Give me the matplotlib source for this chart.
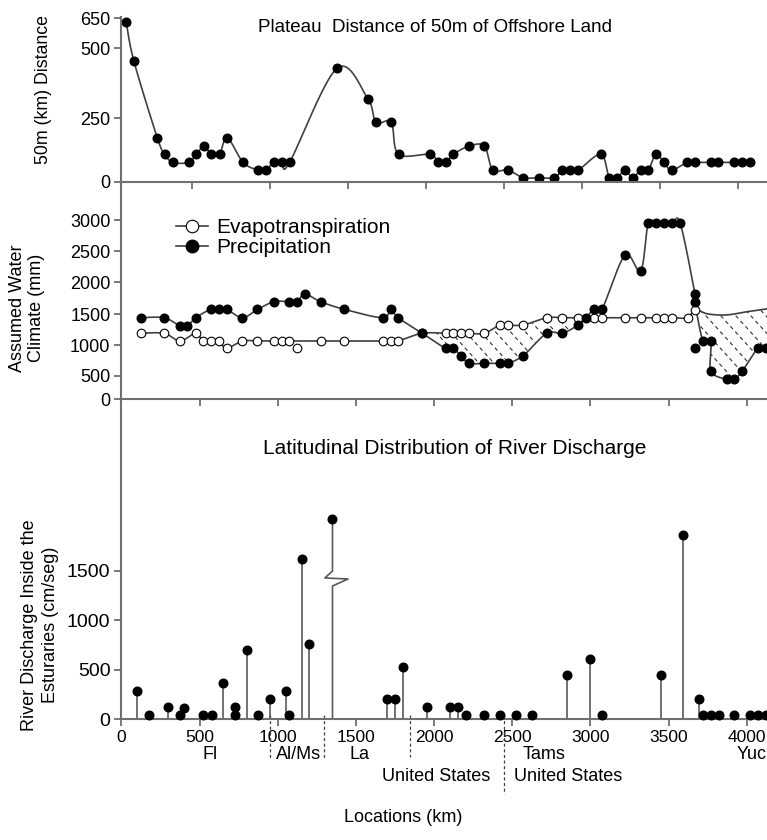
import numpy as np
import matplotlib
matplotlib.use("Agg")
import matplotlib.pyplot as plt
from matplotlib.collections import LineCollection
from matplotlib.patches import Polygon
from matplotlib.lines import Line2D

plt.rcParams["font.family"] = ["Liberation Sans", "DejaVu Sans"]

# ── data ────────────────────────────────────────────────────────
# top panel: distance to the 50 m isobath
top_km = [77, 126, 276, 324, 376, 478, 527, 574, 623, 675, 724, 826, 922, 973,
          1022, 1076, 1124, 1428, 1626, 1677, 1775, 1822, 2025, 2074, 2125, 2174,
          2275, 2372, 2426, 2522, 2622, 2723, 2821, 2872, 2921, 2974, 3119, 3172,
          3224, 3273, 3322, 3373, 3422, 3471, 3523, 3572, 3672, 3721, 3822, 3870,
          3972, 4024, 4074]
top_dist = [633, 455, 174, 109, 77, 77, 109, 141, 109, 109, 174, 77, 47, 47,
            77, 77, 77, 429, 319, 234, 234, 109, 109, 77, 77, 109,
            141, 141, 47, 47, 17, 17, 17, 47, 47, 47, 109, 17,
            17, 47, 17, 47, 47, 109, 77, 47, 77, 77, 77, 77,
            77, 77, 77]

# middle panel: precipitation / evapotranspiration
precip_km = [123, 273, 373, 422, 475, 571, 623, 672, 774, 870, 975, 1073, 1124,
             1173, 1274, 1425, 1670, 1723, 1770, 1924, 2074, 2122, 2171, 2223,
             2321, 2421, 2470, 2570, 2720, 2820, 2922, 2973, 3023, 3074, 3221,
             3322, 3370, 3423, 3473, 3524, 3575, 3669, 3669, 3720, 3771, 3771,
             3872, 3921, 3972, 4072, 4123]
precip_mm = [1440, 1440, 1311, 1311, 1440, 1574, 1574, 1574, 1440, 1574, 1694,
             1694, 1694, 1815, 1694, 1574, 1440, 1574, 1440, 1189, 946, 946, 826,
             702, 702, 702, 702, 826, 1189, 1189, 1323, 1440, 1574, 1574, 2435,
             2185, 2947, 2947, 2947, 2947, 2947, 1815, 1685, 1065, 1065, 577,
             423, 423, 577, 946, 946]
precip_tail_km = [4250]
precip_tail_mm = [946]
precip_lone_km = [3669]
precip_lone_mm = [946]

evap_km = [123, 273, 373, 475, 522, 571, 623, 672, 774, 870, 975, 1024, 1073,
           1274, 1425, 1670, 1723, 1770, 1924, 2074, 2122, 2171, 2223, 2321,
           2421, 2470, 2570, 2720, 2820, 2922, 3025, 3074, 3221, 3322, 3420,
           3473, 3524, 3622, 3669]
evap_mm = [1189, 1189, 1065, 1189, 1065, 1065, 1065, 946, 1065, 1065, 1065,
           1065, 1065, 1065, 1065, 1065, 1065, 1065, 1189, 1189, 1189, 1189,
           1189, 1189, 1323, 1323, 1323, 1440, 1440, 1440, 1440, 1440, 1440,
           1440, 1440, 1440, 1440, 1440, 1563]
evap_tail_km = [3754, 3872, 4000, 4128, 4250]
evap_tail_mm = [1500, 1485, 1535, 1580, 1620]
evap_lone_km = [1124]
evap_lone_mm = [946]

# deficit zones (precipitation below evapotranspiration)
deficit_start = [1924, 3675]
deficit_end = [2973, 4250]

# bottom panel: river discharge
dis_km = [100, 175, 298, 373, 401, 522, 576, 650, 725, 725, 800, 874, 953, 1050,
          1073, 1152, 1201, 1700, 1749, 1798, 1952, 2101, 2150, 2202, 2321, 2421,
          2522, 2624, 2848, 2997, 3072, 3450, 3594, 3697, 3718, 3770, 3823, 3921,
          4021, 4074, 4122]
dis_val = [284, 40, 125, 40, 108, 40, 40, 368, 125, 40, 699, 40, 203, 284,
           40, 1622, 760, 203, 203, 530, 125, 125, 125, 40, 40, 40,
           40, 40, 446, 608, 40, 446, 1865, 203, 40, 40, 40, 40,
           40, 40, 40]
# Mississippi, drawn on a broken axis
miss_km = [1350]
miss_val = [2024]
zig_km = [1350, 1350, 1450, 1301, 1350, 1350]
zig_val = [0, 1348, 1419, 1429, 1500, 2024]

border_km = [950, 1296, 1845, 2450]
border_len = [0.125, 0.125, 0.12, 0.235]     # axes fraction below the axis
region_names = ["Fl", "Al/Ms", "La", "Tams"]
region_km = [565, 1135, 1525, 2703]
country_names = ["United States", "United States"]
country_km = [2011, 2857]

xticks = np.arange(0, 4001, 500)

# ── helpers ─────────────────────────────────────────────────────
def piecewise(vals, heights):
    vals = np.asarray(vals, float)
    heights = np.asarray(heights, float)
    fwd = lambda v: np.interp(v, vals, heights)
    inv = lambda u: np.interp(u, heights, vals)
    return fwd, inv


def smooth(x, y, fwd=None, inv=None, n=16):
    """uniform Catmull-Rom through the points (in scale space)"""
    y = np.asarray(y, float)
    if fwd is not None:
        y = fwd(y)
    P = np.column_stack([np.asarray(x, float), y])
    P = np.vstack([P[0], P, P[-1]])
    t = np.linspace(0, 1, n)[:, None]
    out = []
    for i in range(len(P) - 3):
        p0, p1, p2, p3 = P[i], P[i + 1], P[i + 2], P[i + 3]
        seg = 0.5 * (2 * p1 + (-p0 + p2) * t
                     + (2 * p0 - 5 * p1 + 4 * p2 - p3) * t ** 2
                     + (-p0 + 3 * p1 - 3 * p2 + p3) * t ** 3)
        out.append(seg if i == 0 else seg[1:])
    out = np.vstack(out)
    ys = out[:, 1] if inv is None else inv(out[:, 1])
    return out[:, 0], ys


FW, FH = 767, 840
fig = plt.figure(figsize=(FW / 100, FH / 100), dpi=100)

LEFT = 121.5
def axes_px(top, bottom):
    return fig.add_axes([LEFT / FW, 1 - bottom / FH, 1 - LEFT / FW, (bottom - top) / FH])

ax_top = axes_px(16.7, 182)
ax_mid = axes_px(182, 399)
ax_bot = axes_px(399, 719)

SPINE = "#707070"
LINE = "#404040"
for ax in (ax_top, ax_mid, ax_bot):
    for s in ("top", "right"):
        ax.spines[s].set_visible(False)
    for s in ("left", "bottom"):
        ax.spines[s].set_color(SPINE)
        ax.spines[s].set_linewidth(1.5)
    ax.tick_params(direction="out", length=5, width=1.3, color=SPINE,
                   labelsize=13, pad=3)
    ax.set_xticks(xticks)
    ax.patch.set_alpha(0)

# ── top panel ───────────────────────────────────────────────────
f_top, i_top = piecewise([-1000, 0, 250, 500, 650, 2000],
                         [-255, 0, 63.7, 133.7, 163.7, 433.7])
ax_top.set_yscale("function", functions=(f_top, i_top))
ax_top.set_xlim(47, 4183)
ax_top.set_ylim(0, 658)
ax_top.set_yticks([0, 250, 500, 650])
ax_top.tick_params(labelbottom=False)
sx, sy = smooth(top_km, top_dist, f_top, i_top)
ax_top.plot(sx, sy, color=LINE, lw=1.2)
ax_top.plot(top_km, top_dist, "o", color="black", ms=6.2)
fig.text(435 / FW, 1 - 27 / FH, "Plateau  Distance of 50m of Offshore Land",
         ha="center", va="center", fontsize=13.5)
fig.text(44 / FW, 1 - 90 / FH, "50m (km) Distance", rotation=90,
         ha="center", va="center", fontsize=12.8)

# ── middle panel ────────────────────────────────────────────────
f_mid, i_mid = piecewise([-1000, 0, 500, 1000, 1500, 2000, 2500, 3000, 6000],
                         [-46.6, 0, 23.3, 54, 85, 116.7, 147.7, 179, 365])
ax_mid.set_yscale("function", functions=(f_mid, i_mid))
ax_mid.set_xlim(0, 4130)
ax_mid.set_ylim(0, 3613)
ax_mid.set_yticks(np.arange(0, 3001, 500))
ax_mid.tick_params(labelbottom=False)

ex, ey = smooth(evap_km + evap_tail_km, evap_mm + evap_tail_mm, f_mid, i_mid)
px_, py_ = smooth(precip_km + precip_tail_km, precip_mm + precip_tail_mm, f_mid, i_mid)

# dashed hatching of the deficit zones
pos = ax_mid.get_position()
W, H = pos.width * FW, pos.height * FH
run = H / 1.1
segs = []
for c in np.arange(-run, W + 15, 15):
    segs.append([(c / W, 1.0), ((c + run) / W, 0.0)])
for a, b in zip(deficit_start, deficit_end):
    m1 = (ex >= a) & (ex <= b)
    m2 = (px_ >= a) & (px_ <= b)
    verts = np.vstack([np.column_stack([ex[m1], ey[m1]]),
                       np.column_stack([px_[m2], py_[m2]])[::-1]])
    patch = Polygon(verts, closed=True, fill=False, lw=0,
                    transform=ax_mid.transData)
    ax_mid.add_patch(patch)
    lc = LineCollection(segs, transform=ax_mid.transAxes, colors="#303030",
                        linewidths=0.8, linestyles=(0, (3.5, 3)))
    ax_mid.add_collection(lc)
    lc.set_clip_path(patch)

ax_mid.plot(ex, ey, color=LINE, lw=1.2)
ax_mid.plot(px_, py_, color=LINE, lw=1.2)
ax_mid.plot(evap_km, evap_mm, "o", mfc="white", mec="black", mew=0.8, ms=6.2)
ax_mid.plot(evap_lone_km, evap_lone_mm, "o", mfc="white", mec="black", mew=0.8, ms=6.2)
ax_mid.plot(precip_km, precip_mm, "o", color="black", ms=6.2)
ax_mid.plot(precip_lone_km, precip_lone_mm, "o", color="black", ms=6.2)

handles = [Line2D([], [], color=LINE, lw=1.2, marker="o", mfc="white",
                  mec="black", mew=0.8, ms=9),
           Line2D([], [], color=LINE, lw=1.2, marker="o", mfc="black",
                  mec="black", ms=9)]
ax_mid.legend(handles, ["Evapotranspiration", "Precipitation"],
              loc="upper left", bbox_to_anchor=(176 / FW, 1 - 218 / FH),
              bbox_transform=fig.transFigure, frameon=False, fontsize=15,
              handlelength=1.55, handletextpad=0.4, labelspacing=0.05,
              borderpad=0, borderaxespad=0)
fig.text(27 / FW, 1 - 308 / FH, "Assumed Water\nClimate (mm)", rotation=90,
         ha="center", va="center", fontsize=13, linespacing=1.15)

# ── bottom panel ────────────────────────────────────────────────
ax_bot.set_xlim(0, 4130)
ax_bot.set_ylim(0, 3243)
ax_bot.set_yticks([0, 500, 1000, 1500])
ax_bot.tick_params(axis="y", labelsize=14)
ax_bot.tick_params(axis="x", labelsize=12.5)
ax_bot.vlines(dis_km, 0, dis_val, color="#5a5a5a", lw=1.2)
ax_bot.plot(zig_km, zig_val, color="#5a5a5a", lw=1.2)
ax_bot.plot(dis_km, dis_val, "o", color="black", ms=6.2, clip_on=False, zorder=3)
ax_bot.plot(miss_km, miss_val, "o", color="black", ms=6.2, zorder=3)

xt = ax_bot.get_xaxis_transform()
for k, ln in zip(border_km, border_len):
    ax_bot.plot([k, k], [0.012, -ln], transform=xt, color="#404040", lw=0.9,
                ls=(0, (2.5, 2)), clip_on=False)
for name, k in zip(region_names, region_km):
    ax_bot.text(k, -0.11, name, transform=xt, ha="center", va="center", fontsize=13)
ax_bot.text(3936, -0.11, "Yuc", transform=xt, ha="left", va="center", fontsize=13)
for name, k in zip(country_names, country_km):
    ax_bot.text(k, -0.18, name, transform=xt, ha="center", va="center", fontsize=13)

fig.text(455 / FW, 1 - 448 / FH, "Latitudinal Distribution of River Discharge",
         ha="center", va="center", fontsize=15)
fig.text(40 / FW, 1 - 625 / FH, "River Discharge Inside the\nEsturaries (cm/seg)",
         rotation=90, ha="center", va="center", fontsize=13, linespacing=1.3)
fig.text(403 / FW, 1 - 818 / FH, "Locations (km)", ha="center", va="center",
         fontsize=13)

fig.savefig("out.png", dpi=100)
